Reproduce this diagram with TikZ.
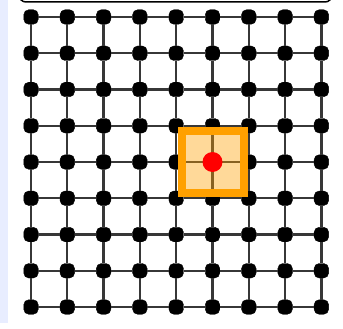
\documentclass[tikz,border=0pt]{standalone}
\definecolor{stripblue}{RGB}{232,237,255}
\definecolor{gridline}{RGB}{55,55,55}
\definecolor{selorange}{RGB}{255,160,0}
\tikzset{
  dot/.style={draw=black, fill=black, rectangle, rounded corners=5pt, minimum size=14.5pt, inner sep=0pt},
  link/.style={draw=gridline, line width=2.3pt},
  selbox/.style={draw=selorange, line width=8pt, fill=selorange, fill opacity=0.4, rectangle, minimum size=62pt, inner sep=0pt},
  reddot/.style={circle, fill=red, minimum size=20pt, inner sep=0pt},
  frameline/.style={draw=black, line width=1.5pt, rounded corners=7pt}
}
\begin{document}
\begin{tikzpicture}[x=1pt,y=-1pt]
\useasboundingbox (0,0) rectangle (343,329);
\fill[stripblue] (0,0) rectangle (8,323);
\begin{scope}
\clip (0,0) rectangle (343,329);
\draw[frameline] (19,-30) rectangle (332,2);
\end{scope}
\foreach \i in {0,...,8} {
  \foreach \j in {0,...,8} {
    \node[dot] (d-\i-\j) at ({31+36.3*\i},{17+36.25*\j}) {};
  }
}
\foreach \i in {0,...,7} {
  \pgfmathtruncatemacro\k{\i+1}
  \foreach \j in {0,...,8} {
    \draw[link] (d-\i-\j) -- (d-\k-\j);
    \draw[link] (d-\j-\i) -- (d-\j-\k);
  }
}
\node[selbox] (sel) at (d-5-4) {};
\node[reddot] (c) at (sel.center) {};
\end{tikzpicture}
\end{document}
